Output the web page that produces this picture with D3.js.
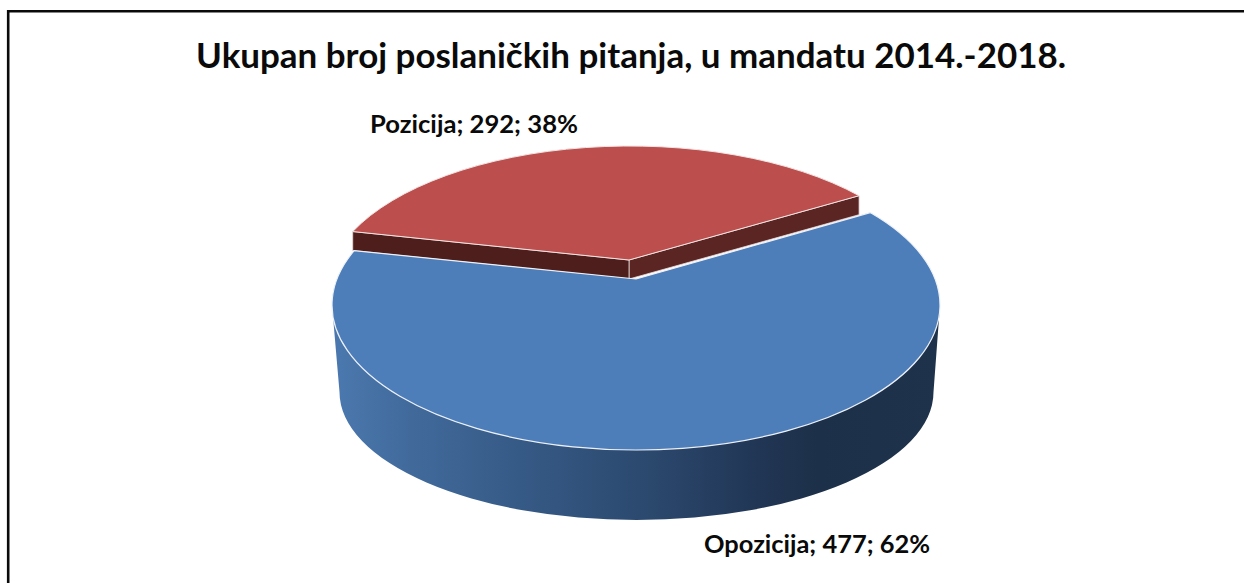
<!DOCTYPE html>
<html>
<head>
<meta charset="utf-8">
<script src="https://cdn.jsdelivr.net/npm/d3@7"></script>
<style>
html,body{margin:0;padding:0;background:#fff;overflow:hidden}
svg{display:block}
text{font-family:Lato,"Open Sans",sans-serif;font-weight:700;fill:#0a0a0a}
</style>
</head>
<body>
<svg id="c" width="1244" height="583"></svg>
<script>
const titleText = "Ukupan broj poslaničkih pitanja, u mandatu 2014.-2018.";
const categories = ["Opozicija", "Pozicija"];
const values = [477, 292];
const percents = [62, 38];
const colors = ["#4d7eba", "#bc4f4d"];
const wallColors = ["#4d1e1c", "#5a2522"];

const svg = d3.select("#c");
const defs = svg.append("defs");

// frame (only top and left rules are visible in the crop)
svg.append("path").attr("d", "M8.2,583V11.3H1244").attr("fill", "none")
  .attr("stroke", "#0a0a0a").attr("stroke-width", 2.6);

// title
svg.append("text").attr("x", 631).attr("y", 68).attr("text-anchor", "middle")
  .attr("font-size", 35).attr("textLength", 870).attr("lengthAdjust", "spacingAndGlyphs").text(titleText);

// d3.pie gives the true angles; the perspective of the 3D view compresses the back
const pieData = d3.pie().sort(null).value(d => d.v).startAngle(0).endAngle(2 * Math.PI)(
  categories.map((c, i) => ({ c, v: values[i], i })));
const split = pieData[0].endAngle;
const toView = d3.scaleLinear().domain([0, split, 2 * Math.PI])
  .range([50.4, 292, 410.4].map(d => d * Math.PI / 180));
const deg = Math.PI / 180;

function ell(o, a) { return [o.cx + o.rx * Math.sin(a), o.cy - o.ry * Math.cos(a)]; }
function arcCmd(o, a0, a1) {
  const p = ell(o, a1), large = Math.abs(a1 - a0) > Math.PI ? 1 : 0;
  return `A${o.rx},${o.ry} 0 ${large} ${a1 > a0 ? 1 : 0} ${p[0]},${p[1]}`;
}

const blue = { cx: 636, cy: 305, rx: 304, ry: 145, ax: 636, ay: 279 };
const blueLow = { cx: 636.5, cy: 392, rx: 297, ry: 128 };
const red = { cx: 630, cy: 291, rx: 304, ry: 145, ax: 629, ay: 260, h: 19 };

// ---- red slice walls and top ----
const r = pieData[1];
const ra0 = toView(r.startAngle) + 2.2 * deg, ra1 = toView(r.endAngle) - 1.5 * deg;
const rS = ell(red, ra0), rE = ell(red, ra1);
svg.append("path").attr("fill", wallColors[1]).attr("stroke", "#e8dcdc").attr("stroke-width", .8)
  .attr("d", d3.line()([rE, [red.ax, red.ay], [red.ax, red.ay + red.h], [rE[0], rE[1] + red.h]]) + "Z");
svg.append("path").attr("fill", wallColors[0]).attr("stroke", "#e8dcdc").attr("stroke-width", .8)
  .attr("d", d3.line()([rS, [red.ax, red.ay], [red.ax, red.ay + red.h], [rS[0], rS[1] + red.h]]) + "Z");
svg.append("path").attr("fill", colors[1]).attr("stroke", "#f2e4e3").attr("stroke-width", 1)
  .attr("d", `M${red.ax},${red.ay}L${rS[0]},${rS[1]}` + arcCmd(red, ra0, ra1) + "Z");

// ---- blue side wall ----
const grad = defs.append("linearGradient").attr("id", "side")
  .attr("gradientUnits", "userSpaceOnUse").attr("x1", 340).attr("x2", 937).attr("y1", 0).attr("y2", 0);
[[0, "#4a77ad"], [.12, "#416a9b"], [.3, "#365a86"], [.5, "#2c4a70"], [.7, "#213655"], [.8, "#1d3049"], [1, "#1e324b"]]
  .forEach(s => grad.append("stop").attr("offset", s[0]).attr("stop-color", s[1]));
const lL = ell(blueLow, -Math.PI / 2), lR = ell(blueLow, Math.PI / 2);
svg.append("path").attr("fill", "url(#side)")
  .attr("d", `M${blue.cx - blue.rx},${blue.cy}L${lL[0]},${lL[1]}` +
    `A${blueLow.rx},${blueLow.ry} 0 0 0 ${lR[0]},${lR[1]}L${blue.cx + blue.rx},${blue.cy}Z`);

// ---- blue top ----
const b = pieData[0];
const ba0 = toView(b.startAngle), ba1 = toView(b.endAngle);
const bS = ell(blue, ba0);
svg.append("path").attr("fill", colors[0]).attr("stroke", "#eef2f8").attr("stroke-width", 1.2)
  .attr("d", `M${blue.ax},${blue.ay}L${bS[0]},${bS[1]}` + arcCmd(blue, ba0, ba1) + "Z");

// labels
const labels = [{ i: 0, x: 704, y: 553, w: 226 }, { i: 1, x: 370, y: 133, w: 208 }];
svg.selectAll("text.lab").data(labels).join("text").attr("class", "lab")
  .attr("x", d => d.x).attr("y", d => d.y).attr("font-size", 25)
  .attr("textLength", d => d.w).attr("lengthAdjust", "spacingAndGlyphs")
  .text(d => `${categories[d.i]}; ${values[d.i]}; ${percents[d.i]}%`);
</script>
</body>
</html>
